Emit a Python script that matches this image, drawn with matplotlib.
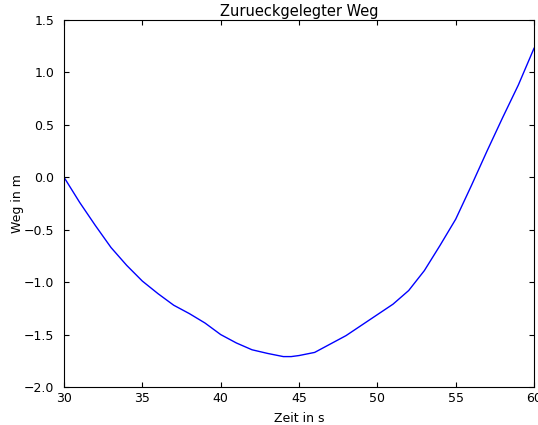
import numpy as np
import matplotlib
matplotlib.use('Agg')
import matplotlib.pyplot as plt

# Zeitpunkte und zurueckgelegter Weg
zeit = [30, 31, 32, 33, 34, 35, 36, 37, 38, 39, 40, 41, 42, 43, 44, 44.5,
        45, 46, 47, 48, 49, 50, 51, 52, 53, 54, 55, 56, 57, 58, 59, 60]
weg = [0.0, -0.24, -0.46, -0.67, -0.84, -0.99, -1.11, -1.22, -1.30, -1.39,
       -1.50, -1.58, -1.645, -1.68, -1.71, -1.71, -1.70, -1.67, -1.59, -1.51,
       -1.41, -1.31, -1.21, -1.08, -0.89, -0.65, -0.40, -0.08, 0.25, 0.57,
       0.88, 1.23]

if __name__ == '__main__':
    fig = plt.figure(figsize=(5.38, 4.25), dpi=100)
    ax = fig.add_axes([0.119, 0.0894, 0.8736, 0.8636])
    ax.plot(zeit, weg, color='blue', linewidth=1.0)
    ax.set_xlim(30, 60)
    ax.set_ylim(-2.0, 1.5)
    ax.set_xticks([30, 35, 40, 45, 50, 55, 60])
    ax.set_yticks(np.arange(-2.0, 1.51, 0.5))
    ax.tick_params(direction='in', top=True, right=True, labelsize=9)
    ax.tick_params(axis='x', pad=3.5)
    ax.tick_params(axis='y', pad=7)
    ax.set_title('Zurueckgelegter Weg', fontsize=10.5, pad=3)
    ax.set_xlabel('Zeit in s', fontsize=9, labelpad=5)
    ax.set_ylabel('Weg in m', fontsize=9, labelpad=0)
    fig.savefig('out.png', dpi=100)
